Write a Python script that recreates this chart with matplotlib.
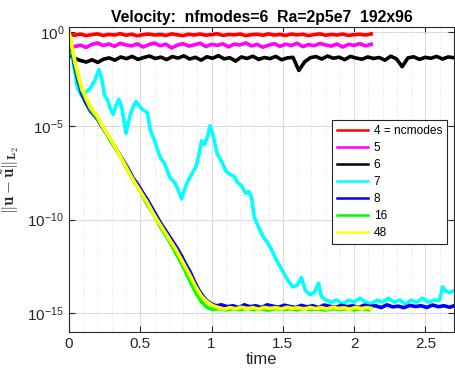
import numpy as np
import matplotlib
matplotlib.use("Agg")
import matplotlib.pyplot as plt
from matplotlib.ticker import FixedLocator, MultipleLocator, NullLocator

plt.rcParams['font.family'] = ['Liberation Sans', 'DejaVu Sans']
plt.rcParams['mathtext.fontset'] = 'cm'

# log10 of the error
red_log = [-0.12, -0.17, -0.11, -0.19, -0.14, -0.10, -0.18, -0.13, -0.16, -0.09,
           -0.17, -0.12, -0.20, -0.14, -0.11, -0.16, -0.13, -0.18, -0.10, -0.15,
           -0.19, -0.12, -0.16, -0.11, -0.17, -0.14, -0.09, -0.18, -0.13, -0.15,
           -0.11, -0.19, -0.14, -0.12, -0.17, -0.10, -0.16, -0.13, -0.18, -0.11,
           -0.15, -0.12, -0.19, -0.14, -0.10, -0.17, -0.13, -0.16, -0.11, -0.18,
           -0.14, -0.12, -0.16, -0.10]
mag_log = [-0.62, -0.78, -0.70, -0.82, -0.66, -0.58, -0.72, -0.64, -0.76, -0.60,
           -0.69, -0.74, -0.63, -0.80, -0.67, -0.59, -0.73, -0.65, -0.85, -0.70,
           -0.62, -0.75, -0.68, -0.60, -0.77, -0.66, -0.71, -0.63, -0.79, -0.64,
           -0.69, -0.58, -0.74, -0.66, -0.81, -0.70, -0.62, -0.76, -0.65, -0.72,
           -0.60, -0.78, -0.67, -0.73, -0.61, -0.69, -0.75, -0.64, -0.80, -0.66,
           -0.71, -0.62, -0.74, -0.65]
blk_log = [-1.25, -1.40, -1.52, -1.60, -1.48, -1.62, -1.45, -1.38, -1.50, -1.33,
           -1.42, -1.30, -1.46, -1.36, -1.28, -1.41, -1.34, -1.47, -1.31, -1.39,
           -1.27, -1.44, -1.35, -1.50, -1.32, -1.40, -1.26, -1.43, -1.37, -1.55,
           -1.33, -1.41, -1.29, -1.46, -1.36, -1.42, -1.30, -1.48, -1.38, -1.35,
           -2.05, -1.60, -1.37, -1.31, -1.44, -1.28, -1.40, -1.34, -1.47, -1.30,
           -1.39, -1.45, -1.33, -1.41, -1.36, -1.50, -1.29, -1.43, -1.85, -1.38,
           -1.32, -1.46, -1.35, -1.40, -1.30, -1.44, -1.33, -1.37]
red_t = np.linspace(0, 2.12, len(red_log))
mag_t = np.linspace(0, 2.12, len(mag_log))
blk_t = np.linspace(0, 2.70, len(blk_log))

# (time, log10 error)
cyan_pts = [(0.0, 0.0), (0.03, -1.6), (0.06, -3.0), (0.09, -3.4), (0.12, -3.2), (0.15, -3.0),
            (0.18, -2.6), (0.21, -2.0), (0.23, -2.5), (0.25, -3.4), (0.27, -3.6), (0.29, -4.1),
            (0.31, -4.4), (0.33, -3.9), (0.35, -3.6), (0.37, -4.0), (0.40, -5.4), (0.43, -4.4),
            (0.45, -4.0), (0.47, -3.7), (0.51, -4.1), (0.55, -4.3), (0.57, -5.2), (0.60, -5.8),
            (0.64, -6.7), (0.67, -7.0), (0.71, -7.8), (0.74, -8.0), (0.77, -8.5), (0.79, -8.9),
            (0.81, -8.4), (0.83, -8.0), (0.86, -7.6), (0.89, -7.2), (0.91, -6.6), (0.93, -5.8),
            (0.95, -6.0), (0.97, -5.6), (0.99, -5.0), (1.01, -5.5), (1.04, -6.5), (1.07, -6.9),
            (1.10, -7.4), (1.13, -7.6), (1.16, -7.7), (1.18, -8.0), (1.21, -8.2), (1.24, -8.6),
            (1.26, -8.5), (1.28, -8.8), (1.30, -9.9), (1.33, -10.4), (1.36, -10.9), (1.39, -11.2),
            (1.42, -11.6), (1.45, -12.1), (1.48, -12.5), (1.51, -12.9), (1.54, -13.3), (1.57, -13.6),
            (1.60, -13.5), (1.63, -13.1), (1.66, -13.8), (1.69, -14.0), (1.72, -13.9), (1.75, -13.4),
            (1.77, -14.1), (1.80, -14.3), (1.84, -14.4), (1.88, -14.3), (1.92, -14.5), (1.96, -14.3),
            (2.00, -14.4), (2.04, -14.2), (2.08, -14.4), (2.12, -14.5), (2.16, -14.3), (2.20, -14.4),
            (2.24, -14.2), (2.28, -14.4), (2.32, -14.3), (2.36, -14.5), (2.40, -14.3), (2.44, -14.4),
            (2.48, -14.2), (2.52, -14.4), (2.56, -14.3), (2.60, -14.3), (2.62, -13.6), (2.64, -13.8),
            (2.67, -13.9), (2.70, -13.8)]
blue_pts = [(0.0, 0.0), (0.02, -0.9), (0.04, -1.8), (0.06, -2.5), (0.09, -3.3), (0.12, -3.8),
            (0.15, -4.2), (0.20, -4.65), (0.24, -5.15), (0.28, -5.6), (0.32, -6.1), (0.36, -6.6),
            (0.40, -7.1), (0.43, -7.5), (0.45, -7.8), (0.48, -8.1), (0.52, -8.6), (0.55, -8.95),
            (0.58, -9.35), (0.61, -9.75), (0.64, -10.15), (0.67, -10.5), (0.70, -10.85), (0.73, -11.2),
            (0.76, -11.55), (0.79, -11.95), (0.82, -12.4), (0.85, -12.8), (0.88, -13.3), (0.91, -13.75),
            (0.94, -14.1), (0.97, -14.35), (1.00, -14.5), (1.03, -14.6), (1.07, -14.55), (1.11, -14.65),
            (1.15, -14.6), (1.19, -14.7), (1.23, -14.55), (1.27, -14.65), (1.31, -14.6), (1.35, -14.7),
            (1.39, -14.55), (1.43, -14.62), (1.47, -14.68), (1.51, -14.57), (1.55, -14.64), (1.59, -14.7),
            (1.63, -14.58), (1.67, -14.66), (1.71, -14.6), (1.75, -14.7), (1.79, -14.56), (1.83, -14.63),
            (1.87, -14.69), (1.91, -14.58), (1.95, -14.65), (1.99, -14.6), (2.03, -14.7), (2.07, -14.57),
            (2.11, -14.64), (2.15, -14.6), (2.19, -14.7), (2.23, -14.55), (2.27, -14.66), (2.31, -14.62),
            (2.35, -14.7), (2.39, -14.58), (2.43, -14.64), (2.47, -14.6), (2.51, -14.69), (2.55, -14.56),
            (2.59, -14.65), (2.63, -14.6), (2.67, -14.68), (2.70, -14.6)]
green_pts = [(0.0, 0.0), (0.02, -0.8), (0.04, -1.6), (0.06, -2.3), (0.09, -3.1), (0.12, -3.6),
             (0.15, -4.1), (0.20, -4.6), (0.24, -5.1), (0.30, -5.9), (0.35, -6.5), (0.40, -7.2),
             (0.45, -7.9), (0.50, -8.5), (0.55, -9.2), (0.60, -9.8), (0.65, -10.5), (0.70, -11.1),
             (0.75, -11.8), (0.80, -12.5), (0.85, -13.3), (0.89, -13.9), (0.93, -14.4), (0.97, -14.7),
             (1.01, -14.8), (1.05, -14.75), (1.10, -14.82), (1.15, -14.76), (1.20, -14.8), (1.25, -14.74),
             (1.30, -14.81), (1.35, -14.77), (1.40, -14.83), (1.45, -14.75), (1.50, -14.8), (1.55, -14.76),
             (1.60, -14.82), (1.65, -14.74), (1.70, -14.8), (1.75, -14.77), (1.80, -14.83), (1.85, -14.75),
             (1.90, -14.8), (1.95, -14.76), (2.00, -14.82), (2.05, -14.75), (2.10, -14.8)]
yellow_pts = [(0.0, 0.0), (0.02, -0.7), (0.04, -1.5), (0.06, -2.1), (0.09, -3.0), (0.12, -3.5),
              (0.15, -4.0), (0.20, -4.5), (0.24, -5.1), (0.30, -5.8), (0.35, -6.5), (0.40, -7.2),
              (0.45, -7.9), (0.50, -8.5), (0.55, -9.1), (0.60, -9.8), (0.65, -10.4), (0.70, -11.0),
              (0.75, -11.6), (0.80, -12.3), (0.85, -13.0), (0.89, -13.6), (0.93, -14.1), (0.97, -14.4),
              (1.01, -14.6), (1.05, -14.7), (1.09, -14.78), (1.13, -14.7), (1.17, -14.76), (1.21, -14.68),
              (1.25, -14.75), (1.29, -14.7), (1.33, -14.78), (1.37, -14.69), (1.41, -14.74), (1.45, -14.7),
              (1.49, -14.77), (1.53, -14.68), (1.57, -14.74), (1.61, -14.71), (1.65, -14.78), (1.69, -14.69),
              (1.73, -14.75), (1.77, -14.7), (1.81, -14.77), (1.85, -14.68), (1.89, -14.74), (1.93, -14.71),
              (1.97, -14.78), (2.01, -14.69), (2.05, -14.75), (2.09, -14.7), (2.12, -14.74)]

labels = ['4 = ncmodes', '5', '6', '7', '8', '16', '48']
colors = ['#ff0000', '#ff00ff', '#000000', '#00ffff', '#0000ff', '#00ff00', '#ffff00']

series = [(red_t, red_log), (mag_t, mag_log), (blk_t, blk_log)]
for pts in [cyan_pts, blue_pts, green_pts, yellow_pts]:
    tt, ll = zip(*pts)
    series.append((np.array(tt), np.array(ll)))

fig = plt.figure(figsize=(4.55, 3.72), dpi=100)
ax = fig.add_axes([0.1516, 0.1075, 0.846, 0.819])

for (t, lg), c, lab in zip(series, colors, labels):
    ax.plot(t, 10.0 ** np.array(lg), color=c, lw=2.6, label=lab)

ax.set_yscale('log')
ax.set_xlim(0, 2.7)
ax.set_ylim(1e-16, 10 ** 0.25)
ax.yaxis.set_major_locator(FixedLocator([1e0, 1e-5, 1e-10, 1e-15]))
ax.yaxis.set_minor_locator(NullLocator())
ax.xaxis.set_major_locator(FixedLocator([0, 0.5, 1, 1.5, 2, 2.5]))
ax.xaxis.set_minor_locator(MultipleLocator(0.1))
ax.set_xticklabels(['0', '0.5', '1', '1.5', '2', '2.5'])

ax.grid(True, which='major', color='#dcdcdc', lw=0.8, ls='-')
ax.grid(True, which='minor', axis='x', color='#cfcfcf', lw=0.6, ls=(0, (1, 3)))
ax.set_axisbelow(True)

ax.tick_params(which='both', direction='in', top=True, right=True, colors='#262626',
               labelsize=11, labelcolor='#262626')
ax.tick_params(which='major', length=4)
ax.tick_params(which='minor', length=0)
for s in ax.spines.values():
    s.set_color('#262626')
    s.set_linewidth(0.8)

ax.set_xlabel('time', fontsize=12, color='#262626', labelpad=1)
ax.set_ylabel(r'$\|\mathbf{u}-\tilde{\mathbf{u}}\|_{\mathbf{L}_2}$', fontsize=12,
              color='#262626')
ax.yaxis.set_label_coords(-0.125, 0.5)
ax.set_title('Velocity:  nfmodes=6  Ra=2p5e7  192x96', fontsize=11.3, fontweight='bold', pad=4)

leg = ax.legend(loc='upper right', bbox_to_anchor=(0.982, 0.696), borderaxespad=0,
                fontsize=8.6, fancybox=False, framealpha=1, edgecolor='#262626',
                handlelength=2.6, labelspacing=0.42, borderpad=0.4, handletextpad=0.5)
leg.get_frame().set_linewidth(0.8)
for h in leg.legend_handles:
    h.set_linewidth(1.8)

fig.savefig('out.png', dpi=100)
